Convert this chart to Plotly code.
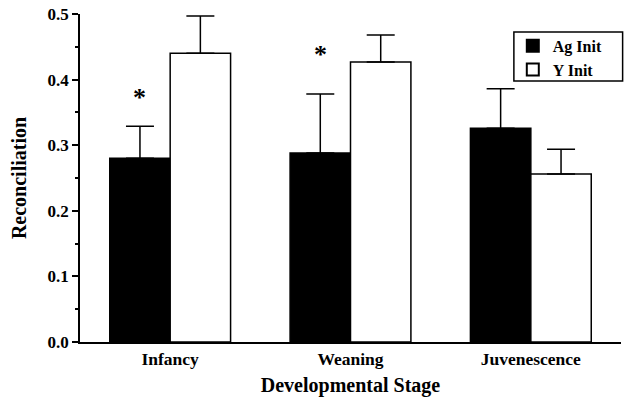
import plotly.graph_objects as go

stages = ["Infancy", "Weaning", "Juvenescence"]
ag_init = [0.280, 0.288, 0.326]
ag_err = [0.049, 0.090, 0.060]
y_init = [0.440, 0.427, 0.256]
y_err = [0.057, 0.041, 0.038]
star_y = [0.372, 0.438]  # significance markers above Ag Init bars (Infancy, Weaning)

BARGAP = 0.33
FONT = "Liberation Serif"

fig = go.Figure()
fig.add_trace(go.Bar(
    name="Ag Init", x=stages, y=ag_init,
    marker=dict(color="black", line=dict(color="black", width=1.5)),
    error_y=dict(type="data", array=ag_err, symmetric=False, arrayminus=[0]*3,
                 color="black", thickness=1.5, width=14),
))
fig.add_trace(go.Bar(
    name="Y Init", x=stages, y=y_init,
    marker=dict(color="white", line=dict(color="black", width=1.5)),
    error_y=dict(type="data", array=y_err, symmetric=False, arrayminus=[0]*3,
                 color="black", thickness=1.5, width=14),
))

for i, sy in enumerate(star_y):
    fig.add_annotation(x=i - (1 - BARGAP) / 4, y=sy, xref="x", yref="y",
                       text="*", showarrow=False,
                       font=dict(family=FONT, size=26, color="black", weight="bold"))

# legend frame (drawn as a shape so it can be wider than the entries)
fig.add_shape(type="rect", xref="paper", yref="paper",
              x0=0.802, x1=1.003, y0=0.796, y1=0.945,
              line=dict(color="black", width=1.5), fillcolor="rgba(0,0,0,0)", layer="above")

fig.update_layout(
    width=624, height=400,
    margin=dict(l=80, r=3, t=14, b=58, autoexpand=False),
    paper_bgcolor="white", plot_bgcolor="white",
    barmode="group", bargap=BARGAP, bargroupgap=0,
    font=dict(family=FONT, color="black", weight="bold"),
    showlegend=True,
    legend=dict(x=0.80, y=0.955, xanchor="left", yanchor="top",
                borderwidth=0, bgcolor="rgba(0,0,0,0)",
                font=dict(family=FONT, size=16, color="black", weight="bold"),
                tracegroupgap=0, itemsizing="constant"),
    xaxis=dict(
        type="category", range=[-0.5, 2.5], automargin=False,
        showline=True, linecolor="black", linewidth=1.5,
        ticks="", showgrid=False,
        tickfont=dict(family=FONT, size=17.5, weight="bold"),
        title=dict(text="Developmental Stage", standoff=10,
                   font=dict(family=FONT, size=20, weight="bold")),
    ),
    yaxis=dict(
        range=[0, 0.5], dtick=0.1, tickformat=".1f", automargin=False,
        showline=True, linecolor="black", linewidth=1.5,
        ticks="outside", ticklen=6, tickwidth=1.5, tickcolor="black",
        minor=dict(dtick=0.05, ticks="outside", ticklen=3, tickwidth=1.5, tickcolor="black"),
        showgrid=False, zeroline=False,
        tickfont=dict(family=FONT, size=17, weight="bold"),
        title=dict(text="Reconciliation", standoff=16,
                   font=dict(family=FONT, size=20, weight="bold")),
    ),
)

fig.write_html("out.html", config={"displayModeBar": False},
               post_script="document.body.style.margin='0';")
